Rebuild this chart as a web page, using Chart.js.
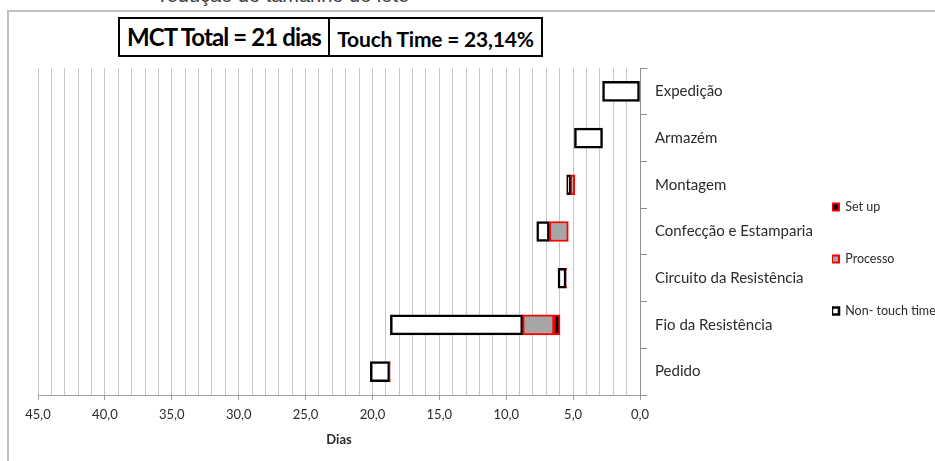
<!DOCTYPE html>
<html>
<head>
<meta charset="utf-8">
<script src="https://cdn.jsdelivr.net/npm/chart.js@4.4.0/dist/chart.umd.min.js"></script>
<style>
html,body{margin:0;padding:0;background:#fff;width:935px;height:461px;overflow:hidden;}
#wrap{position:relative;width:935px;height:461px;overflow:hidden;}
#frame{position:absolute;left:7px;top:10px;width:960px;height:480px;border-left:2px solid #BFBFBF;border-top:2px solid #BFBFBF;}
#topText{position:absolute;left:160px;top:-16px;font-family:'Liberation Sans',Arial,sans-serif;font-size:20px;color:#404040;white-space:nowrap;}
#boxes{position:absolute;left:118px;top:17px;height:36px;border:2px solid #000;display:flex;background:#fff;}
#b1{width:208px;font-family:Lato,sans-serif;font-weight:bold;font-size:24px;line-height:36px;text-align:center;letter-spacing:-0.9px;color:#000;}
#b2{width:211px;border-left:2px solid #000;font-family:Lato,sans-serif;font-weight:bold;font-size:21px;line-height:40px;text-align:center;letter-spacing:-0.2px;color:#000;}
canvas{position:absolute;left:0;top:0;}
</style>
</head>
<body>
<div id="wrap">
  <div id="frame"></div>
  <div id="topText">redução do tamanho do lote</div>
  <canvas id="c" width="935" height="461"></canvas>
  <div id="boxes"><div id="b1">MCT Total = 21 dias</div><div id="b2">Touch Time = 23,14%</div></div>
</div>
<script>
const categories = ['Expedição', 'Armazém', 'Montagem', 'Confecção e Estamparia', 'Circuito da Resistência', 'Fio da Resistência', 'Pedido'];
const startDays    = [0,    2.8,  4.88, 5.36, 5.48, 5.98, 18.66];
const setupDays    = [0,    0,    0,    0,    0,    0.45, 0];
const processoDays = [0,    0,    0.3,  1.42, 0.05, 2.34, 0.05];
const nonTouchDays = [2.8,  2.1,  0.3,  0.94, 0.6,  9.89, 1.45];
const seriesNames = ['Set up', 'Processo', 'Non- touch time'];
const xLabelValues = [0, 5, 10, 15, 20, 25, 30, 35, 40, 45];
const xMin = 0, xMax = 45;

const FONT = 'Lato, "Open Sans", sans-serif';
const TXT = '#2b2b2b';

new Chart(document.getElementById('c'), {
  type: 'bar',
  data: {
    labels: categories,
    datasets: [
      { label: 'offset', data: startDays, backgroundColor: 'rgba(0,0,0,0)', borderWidth: 0 },
      { label: seriesNames[0], data: setupDays, backgroundColor: '#000000', borderColor: '#FF0000', borderWidth: 2 },
      { label: seriesNames[1], data: processoDays, backgroundColor: '#A6A6A6', borderColor: '#FF0000', borderWidth: 2 },
      { label: seriesNames[2], data: nonTouchDays, backgroundColor: '#FFFFFF', borderColor: '#000000', borderWidth: 2.5 }
    ]
  },
  options: {
    indexAxis: 'y',
    responsive: false,
    animation: false,
    datasets: { bar: { barThickness: 20, borderSkipped: false } },
    layout: { padding: { left: 38, top: 68, right: 0, bottom: 0 } },
    plugins: {
      tooltip: { enabled: false },
      legend: {
        position: 'right',
        align: 'center',
        maxWidth: 103,
        title: { display: true, text: ' ', font: { size: 12, family: FONT }, padding: { top: 14.1, bottom: 0 } },
        labels: {
          boxWidth: 7, boxHeight: 7, padding: 0,
          color: TXT,
          font: { size: 12.5, family: FONT, lineHeight: 52 / 12.5 },
          filter: (item) => item.datasetIndex > 0,
          generateLabels: (chart) => Chart.defaults.plugins.legend.labels.generateLabels(chart)
            .map(it => Object.assign(it, { text: [it.text] }))
        }
      }
    },
    scales: {
      x: {
        type: 'linear', stacked: true, reverse: true, position: 'bottom',
        min: xMin, max: xMax,
        afterFit: (s) => { s.height = 66; },
        grid: {
          color: '#C8C8C8', lineWidth: 1, tickLength: 5,
          tickColor: (ctx) => (ctx.tick && xLabelValues.includes(ctx.tick.value)) ? '#A0A0A0' : 'rgba(0,0,0,0)'
        },
        border: { color: '#A0A0A0', width: 1 },
        ticks: {
          stepSize: 1, autoSkip: false, maxRotation: 0, padding: 7,
          color: TXT, font: { size: 13, family: FONT },
          callback: (v) => xLabelValues.includes(v) ? v.toFixed(1).replace('.', ',') : ''
        },
        title: { display: true, text: 'Dias', color: TXT, font: { size: 13, weight: 'bold', family: FONT }, padding: { top: 0, bottom: 13.2 } }
      },
      y: {
        type: 'category', stacked: true, position: 'right',
        afterFit: (s) => { s.width = 192; },
        grid: { drawOnChartArea: false, tickLength: 7, color: '#909090' },
        border: { color: '#909090', width: 1 },
        ticks: { padding: 8, color: TXT, font: { size: 15, family: FONT } }
      }
    }
  }
});
</script>
</body>
</html>
